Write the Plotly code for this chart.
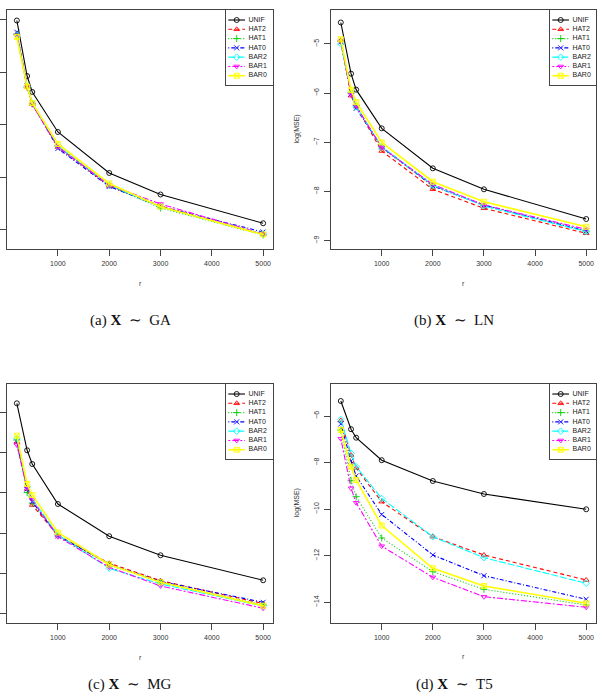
import plotly.graph_objects as go

# ---------------- data ----------------
r = [200, 400, 500, 1000, 2000, 3000, 5000]
methods = ["UNIF", "HAT2", "HAT1", "HAT0", "BAR2", "BAR1", "BAR0"]

# (a) X ~ GA  (tick labels not visible in the source)
ga_unif = [-4.01, -5.067, -5.371, -6.133, -6.914, -7.324, -7.872]
ga_hat2 = [-4.257, -5.276, -5.600, -6.419, -7.162, -7.543, -8.086]
ga_hat1 = [-4.267, -5.286, -5.600, -6.400, -7.152, -7.581, -8.095]
ga_hat0 = [-4.234, -5.257, -5.581, -6.448, -7.171, -7.552, -8.038]
ga_bar2 = [-4.286, -5.267, -5.581, -6.400, -7.143, -7.562, -8.076]
ga_bar1 = [-4.295, -5.276, -5.610, -6.419, -7.143, -7.505, -8.076]
ga_bar0 = [-4.324, -5.267, -5.581, -6.362, -7.114, -7.556, -8.086]

# (b) X ~ LN
ln_unif = [-4.563, -5.604, -5.929, -6.715, -7.528, -7.955, -8.559]
ln_hat2 = [-4.929, -6.051, -6.271, -7.176, -7.955, -8.341, -8.850]
ln_hat1 = [-4.939, -5.997, -6.251, -7.115, -7.888, -8.285, -8.803]
ln_hat0 = [-4.959, -6.017, -6.308, -7.095, -7.888, -8.274, -8.803]
ln_bar2 = [-5.000, -5.986, -6.281, -7.089, -7.868, -8.295, -8.817]
ln_bar1 = [-4.949, -6.027, -6.261, -7.105, -7.857, -8.274, -8.769]
ln_bar0 = [-4.904, -5.936, -6.180, -7.003, -7.801, -8.207, -8.716]

# (c) X ~ MG  (tick labels not visible in the source)
mg_unif = [-4.766, -5.937, -6.279, -7.276, -8.078, -8.554, -9.177]
mg_hat2 = [-5.730, -6.902, -7.301, -8.061, -8.754, -9.187, -9.756]
mg_hat1 = [-5.680, -6.989, -7.251, -8.048, -8.796, -9.220, -9.793]
mg_hat0 = [-5.723, -6.902, -7.218, -8.073, -8.771, -9.207, -9.726]
mg_bar2 = [-5.638, -6.852, -7.151, -8.048, -8.878, -9.270, -9.818]
mg_bar1 = [-5.805, -6.884, -7.176, -8.091, -8.853, -9.319, -9.875]
mg_bar0 = [-5.573, -6.777, -7.051, -7.986, -8.784, -9.227, -9.811]

# (d) X ~ T5
t5_unif = [-5.356, -6.567, -6.932, -7.898, -8.791, -9.349, -10.006]
t5_hat2 = [-6.193, -7.675, -8.233, -9.680, -11.182, -11.968, -13.042]
t5_hat1 = [-6.601, -8.778, -9.465, -11.238, -12.685, -13.441, -14.115]
t5_hat0 = [-6.343, -7.932, -8.576, -10.229, -11.968, -12.857, -13.870]
t5_bar2 = [-6.150, -7.602, -8.177, -9.542, -11.182, -12.084, -13.183]
t5_bar1 = [-6.975, -9.104, -9.723, -11.590, -12.926, -13.759, -14.214]
t5_bar0 = [-6.601, -8.177, -8.748, -10.702, -12.539, -13.299, -14.042]

x_ticks = [1000, 2000, 3000, 4000, 5000]
ga_yticks = [-4, -5, -6, -7, -8]
ln_yticks = [-5, -6, -7, -8, -9]
mg_yticks = [-5, -6, -7, -8, -9, -10]
t5_yticks = [-6, -8, -10, -12, -14]

captions = ["(a) <b>X</b>\u2002∼\u2002GA", "(b) <b>X</b>\u2002∼\u2002LN",
            "(c) <b>X</b>\u2002∼\u2002MG", "(d) <b>X</b>\u2002∼\u2002T5"]

# ---------------- styles ----------------
colors = ["#000000", "#FF0000", "#00CD00", "#0000FF", "#00FFFF", "#FF00FF", "#FFFF00"]
dashes = ["solid", "4px,3px", "1px,2px", "1px,2px,4px,2px", "7px,2px", "2px,2px,6px,2px", "solid"]
symbols = ["circle-open", "triangle-up-open", "cross-thin-open", "x-thin-open",
           "diamond-open", "triangle-down-open", "square-x-open"]
widths = [1.1, 1.1, 1.1, 1.1, 1.1, 1.1, 1.6]

W, H = 602, 699
FONT = "Liberation Sans"
AXC = "#444444"
TXC = "#333333"

panels = [
    dict(series=[ga_unif, ga_hat2, ga_hat1, ga_hat0, ga_bar2, ga_bar1, ga_bar0],
         box=(7, 273, 10, 249), yr=[-8.362, -3.810], yt=ga_yticks, labels=False,
         leg=(226, 273, 10, 85), cap=(130, 320)),
    dict(series=[ln_unif, ln_hat2, ln_hat1, ln_hat0, ln_bar2, ln_bar1, ln_bar0],
         box=(331, 596, 10, 249), yr=[-9.169, -4.309], yt=ln_yticks, labels=True,
         leg=(550, 596, 10, 85), cap=(454, 320)),
    dict(series=[mg_unif, mg_hat2, mg_hat1, mg_hat0, mg_bar2, mg_bar1, mg_bar0],
         box=(7, 273, 384, 623), yr=[-10.242, -4.285], yt=mg_yticks, labels=False,
         leg=(226, 273, 384, 459), cap=(130, 684)),
    dict(series=[t5_unif, t5_hat2, t5_hat1, t5_hat0, t5_bar2, t5_bar1, t5_bar0],
         box=(331, 596, 384, 622.5), yr=[-14.867, -4.626], yt=t5_yticks, labels=True,
         leg=(550, 596, 384, 459), cap=(454, 684)),
]

fig = go.Figure()
layout = dict(width=W, height=H, margin=dict(l=0, r=0, t=0, b=0),
              paper_bgcolor="white", plot_bgcolor="white", showlegend=False,
              font=dict(family=FONT, size=7, color=TXC))
annotations = []

def dom_x(a, b):
    return [a / W, b / W]

def dom_y(top, bottom):
    return [1 - bottom / H, 1 - top / H]

for k, p in enumerate(panels):
    n = k + 1
    xa, ya = f"x{n}", f"y{n}"
    for i, m in enumerate(methods):
        fig.add_trace(go.Scatter(
            x=r, y=p["series"][i], mode="lines+markers", name=m,
            xaxis=xa, yaxis=ya,
            line=dict(color=colors[i], width=widths[i], dash=dashes[i]),
            marker=dict(symbol=symbols[i], size=5, color=colors[i],
                        line=dict(color=colors[i], width=0.9)),
        ))
    x0, x1, y0, y1 = p["box"]
    layout[f"xaxis{n}"] = dict(
        domain=dom_x(x0, x1), anchor=ya, range=[8, 5192],
        tickvals=x_ticks, ticktext=[str(v) for v in x_ticks],
        ticks="outside", ticklen=6, tickcolor=AXC, tickwidth=1,
        showline=True, linecolor=AXC, linewidth=1, mirror=True,
        showgrid=False, zeroline=False, automargin=False,
        tickfont=dict(size=7, color=TXC, family=FONT),
        showticklabels=True, ticklabelstandoff=2,
    )
    layout[f"yaxis{n}"] = dict(
        domain=dom_y(y0, y1), anchor=xa, range=p["yr"],
        tickvals=p["yt"], ticktext=[str(v).replace("-", "−") for v in p["yt"]],
        ticks="outside", ticklen=6, tickcolor=AXC, tickwidth=1,
        showline=True, linecolor=AXC, linewidth=1, mirror=True,
        showgrid=False, zeroline=False, automargin=False,
        tickangle=-90, tickfont=dict(size=7, color=TXC, family=FONT),
        showticklabels=p["labels"], ticklabelstandoff=2,
    )
    # axis titles
    annotations.append(dict(text="r", xref="paper", yref="paper",
                            x=(x0 + x1) / 2 / W, y=1 - (y1 + 34) / H,
                            xanchor="center", yanchor="middle",
                            showarrow=False, font=dict(size=7, color=TXC, family=FONT)))
    if p["labels"]:
        annotations.append(dict(text="log(MSE)", xref="paper", yref="paper",
                                x=297 / W, y=1 - ((y0 + y1) / 2) / H, textangle=-90,
                                xanchor="center", yanchor="middle",
                                showarrow=False, font=dict(size=7, color=TXC, family=FONT)))
    # caption
    cx, cy = p["cap"]
    annotations.append(dict(text=captions[k], xref="paper", yref="paper",
                            x=cx / W, y=1 - cy / H, xanchor="center", yanchor="middle",
                            showarrow=False,
                            font=dict(size=15, color="#111111", family="Liberation Serif")))

    # legend box as an inset axis
    ln_ = n + 4
    lxa, lya = f"x{ln_}", f"y{ln_}"
    lx0, lx1, ly0, ly1 = p["leg"]
    for i, m in enumerate(methods):
        fig.add_trace(go.Scatter(
            x=[2.3, 19], y=[i, i], mode="lines", xaxis=lxa, yaxis=lya,
            line=dict(color=colors[i], width=widths[i], dash=dashes[i]), hoverinfo="skip"))
        fig.add_trace(go.Scatter(
            x=[10.7], y=[i], mode="markers", xaxis=lxa, yaxis=lya,
            marker=dict(symbol=symbols[i], size=5, color=colors[i],
                        line=dict(color=colors[i], width=0.9)), hoverinfo="skip"))
    fig.add_trace(go.Scatter(
        x=[22.5] * len(methods), y=list(range(len(methods))), mode="text",
        text=methods, textposition="middle right", xaxis=lxa, yaxis=lya,
        textfont=dict(size=7, color="#222222", family=FONT), hoverinfo="skip"))
    layout[f"xaxis{ln_}"] = dict(
        domain=dom_x(lx0, lx1), anchor=lya, range=[0, lx1 - lx0],
        showline=True, linecolor=AXC, linewidth=1, mirror=True,
        showgrid=False, zeroline=False, showticklabels=False, ticks="", fixedrange=True)
    layout[f"yaxis{ln_}"] = dict(
        domain=dom_y(ly0, ly1), anchor=lxa, range=[7.0, -1.08],
        showline=True, linecolor=AXC, linewidth=1, mirror=True,
        showgrid=False, zeroline=False, showticklabels=False, ticks="", fixedrange=True)

layout["annotations"] = annotations
fig.update_layout(**layout)
fig.write_html("out.html")
